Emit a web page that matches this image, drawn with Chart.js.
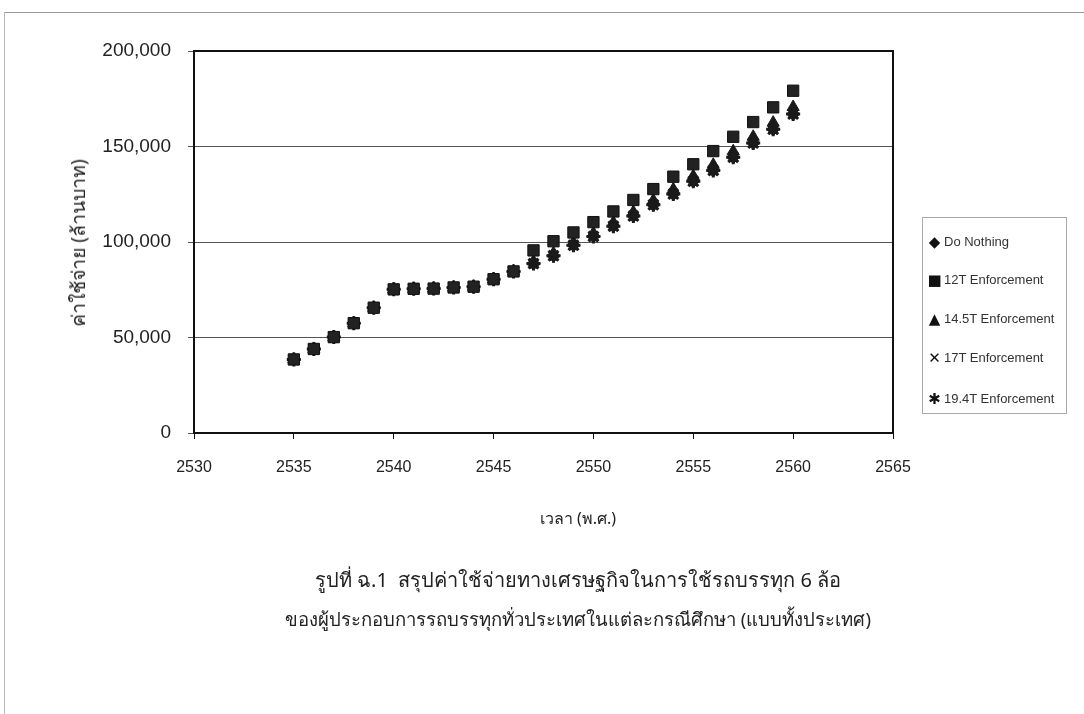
<!DOCTYPE html>
<html>
<head>
<meta charset="utf-8">
<script src="https://cdn.jsdelivr.net/npm/chart.js@4.4.1/dist/chart.umd.min.js"></script>
<style>
  html, body { margin: 0; padding: 0; background: #fff; }
  #wrap { position: relative; width: 1084px; height: 714px; overflow: hidden; }
  #myChart { position: absolute; left: 0; top: 0; }
  .txt { position: absolute; color: #222; font-family: "Noto Sans", "DejaVu Sans", sans-serif; white-space: nowrap; }
  #ytitle { left: 78px; top: 243px; font-size: 19px; transform: translate(-50%, -50%) rotate(-90deg); }
  #xtitle { left: 578px; top: 518px; font-size: 16px; transform: translate(-50%, -50%); }
  #cap1 { left: 578px; top: 580px; font-size: 20px; transform: translate(-50%, -50%); }
  #cap2 { left: 578px; top: 619px; font-size: 18.5px; transform: translate(-50%, -50%); }
  #legend { position: absolute; left: 922px; top: 217px; width: 145px; height: 197px; border: 1px solid #aaa; box-sizing: border-box;
            font-family: "Liberation Sans", Arial, sans-serif; font-size: 13px; color: #333; }
  #legend div { position: absolute; left: 4px; white-space: nowrap; line-height: 16px; }
  #legend span.m { display: inline-block; width: 15px; text-align: center; font-family: "DejaVu Sans", sans-serif; font-size: 15px; color: #111; margin-right: 2px; vertical-align: -1px; }
  #frameTop { position: absolute; left: 5px; top: 12px; width: 1079px; height: 1px; background: #999; }
  #frameLeft { position: absolute; left: 4px; top: 12px; width: 1px; height: 702px; background: #bbb; }
</style>
</head>
<body>
<div id="wrap">
  <div id="frameTop"></div>
  <div id="frameLeft"></div>
  <canvas id="myChart" width="1084" height="714"></canvas>
  <div class="txt" id="ytitle">ค่าใช้จ่าย (ล้านบาท)</div>
  <div class="txt" id="xtitle">เวลา (พ.ศ.)</div>
  <div class="txt" id="cap1">รูปที่ ฉ.1&nbsp; สรุปค่าใช้จ่ายทางเศรษฐกิจในการใช้รถบรรทุก 6 ล้อ</div>
  <div class="txt" id="cap2">ของผู้ประกอบการรถบรรทุกทั่วประเทศในแต่ละกรณีศึกษา (แบบทั้งประเทศ)</div>
  <div id="legend"></div>
</div>
<script>
// Years (พ.ศ.)
const years = [2535, 2536, 2537, 2538, 2539, 2540, 2541, 2542, 2543, 2544, 2545, 2546, 2547,
               2548, 2549, 2550, 2551, 2552, 2553, 2554, 2555, 2556, 2557, 2558, 2559, 2560];

// Values in million baht
const enforce12T = [38500, 44000, 50200, 57500, 65600, 75200, 75500, 75600, 76200, 76600, 80500, 84600, 95600,
                    100400, 105000, 110400, 116000, 122000, 127700, 134200, 140700, 147600, 155100, 162800, 170500, 179200];
const enforce145T = [38500, 44000, 50200, 57500, 65600, 75200, 75500, 75600, 76200, 76600, 80500, 84600, 89800,
                     94100, 99800, 104600, 110200, 115700, 121800, 127600, 134500, 140400, 147500, 155100, 162500, 170700];
const enforce17T = [38500, 44000, 50200, 57500, 65600, 75200, 75500, 75600, 76200, 76600, 80500, 84600, 88700,
                    92800, 98300, 102900, 108300, 113600, 119500, 125100, 131800, 137500, 144400, 151800, 159000, 167000];
const enforce194T = [38500, 44000, 50200, 57500, 65600, 75200, 75500, 75600, 76200, 76600, 80500, 84600, 88700,
                     92800, 98300, 102900, 108300, 113600, 119500, 125100, 131800, 137500, 144400, 151800, 159000, 167000];
const doNothing = [38500, 44000, 50200, 57500, 65600, 75200, 75500, 75600, 76200, 76600, 80500, 84600, 88700,
                   92800, 98300, 102900, 108300, 113600, 119500, 125100, 131800, 137500, 144400, 151800, 159000, 167000];

const seriesNames = ['Do Nothing', '12T Enforcement', '14.5T Enforcement', '17T Enforcement', '19.4T Enforcement'];
const legendMarks = ['◆', '■', '▲', '✕', '✱'];

const xTicks = [2530, 2535, 2540, 2545, 2550, 2555, 2560, 2565];
const yTicks = [0, 50000, 100000, 150000, 200000];

const toPoints = vals => vals.map((v, i) => ({ x: years[i], y: v }));

// frame round the plot area
const plotFrame = {
    id: 'plotFrame',
    beforeDatasetsDraw(chart) {
        const { ctx, chartArea: a } = chart;
        ctx.save();
        ctx.strokeStyle = '#111';
        ctx.lineWidth = 2;
        ctx.strokeRect(a.left, a.top, a.right - a.left, a.bottom - a.top);
        ctx.restore();
    }
};

const ctx = document.getElementById('myChart').getContext('2d');
new Chart(ctx, {
    type: 'scatter',
    data: {
        datasets: [
            { label: seriesNames[0], data: toPoints(doNothing), pointStyle: 'rectRot', pointRadius: 6.5, backgroundColor: '#1a1a1a', borderColor: '#1a1a1a', order: 5 },
            { label: seriesNames[1], data: toPoints(enforce12T), pointStyle: 'rect', pointRadius: 8, backgroundColor: '#222', borderColor: '#111', borderWidth: 1, order: 0 },
            { label: seriesNames[2], data: toPoints(enforce145T), pointStyle: 'triangle', pointRadius: 7, backgroundColor: '#1a1a1a', borderColor: '#1a1a1a', order: 3 },
            { label: seriesNames[3], data: toPoints(enforce17T), pointStyle: 'crossRot', pointRadius: 6, borderWidth: 3, borderColor: '#1a1a1a', backgroundColor: '#1a1a1a', order: 2 },
            { label: seriesNames[4], data: toPoints(enforce194T), pointStyle: 'star', pointRadius: 7, borderWidth: 3, borderColor: '#1a1a1a', backgroundColor: '#1a1a1a', order: 1 }
        ]
    },
    options: {
        responsive: false,
        animation: false,
        layout: { padding: { left: 0, top: 51, right: 191, bottom: 0 } },
        scales: {
            x: {
                type: 'linear',
                min: xTicks[0],
                max: xTicks[xTicks.length - 1],
                afterBuildTicks: scale => { scale.ticks = xTicks.map(v => ({ value: v })); },
                afterFit: scale => { scale.height = 281; },
                grid: { drawOnChartArea: false, drawTicks: true, tickLength: 6, color: '#111' },
                border: { color: '#111', width: 2 },
                ticks: {
                    color: '#222',
                    padding: 19,
                    maxRotation: 0,
                    font: { family: 'Liberation Sans', size: 16 },
                    callback: v => String(v)
                }
            },
            y: {
                min: yTicks[0],
                max: yTicks[yTicks.length - 1],
                afterBuildTicks: scale => { scale.ticks = yTicks.map(v => ({ value: v })); },
                afterFit: scale => { scale.width = 194; },
                grid: { color: '#555', lineWidth: 1, tickLength: 6, drawTicks: true },
                border: { color: '#111', width: 2 },
                ticks: {
                    color: '#222',
                    padding: 17,
                    font: { family: 'Liberation Sans', size: 19 },
                    callback: v => v.toLocaleString('en-US')
                }
            }
        },
        plugins: {
            legend: { display: false },
            tooltip: { enabled: false },
            title: { display: false }
        }
    },
    plugins: [plotFrame]
});

// legend box on the right
const legendBox = document.getElementById('legend');
const legendTops = [16, 54, 93, 132, 173];
seriesNames.forEach((name, i) => {
    const row = document.createElement('div');
    row.style.top = legendTops[i] + 'px';
    row.innerHTML = '<span class="m">' + legendMarks[i] + '</span>' + name;
    legendBox.appendChild(row);
});
</script>
</body>
</html>
